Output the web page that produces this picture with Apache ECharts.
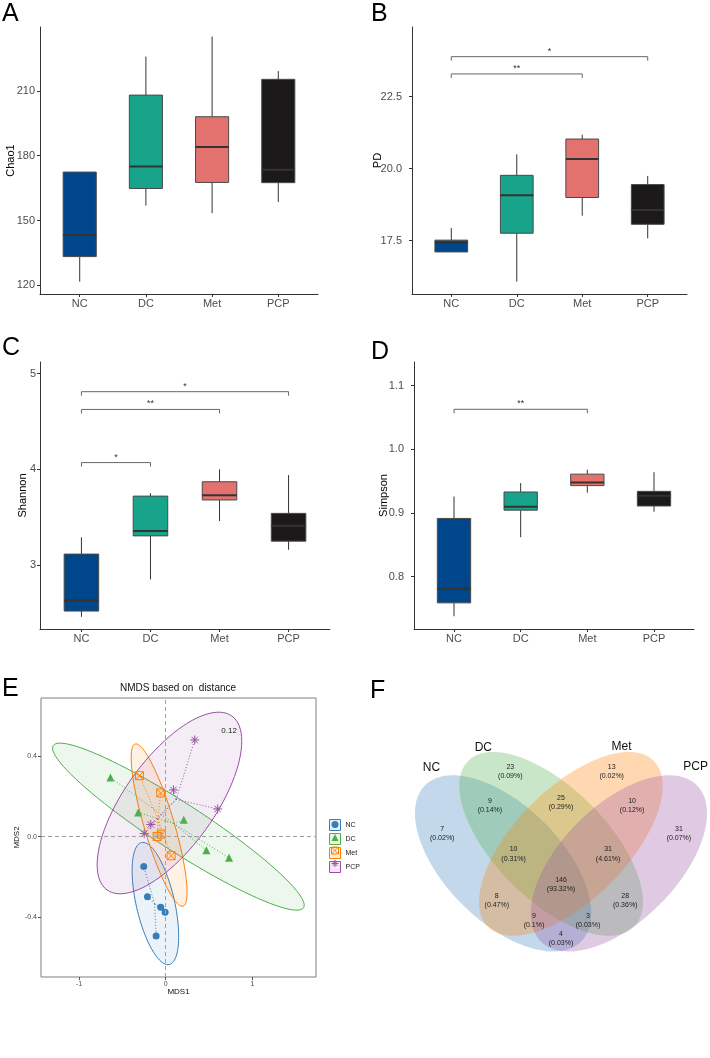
<!DOCTYPE html>
<html><head><meta charset="utf-8">
<script src="https://cdn.jsdelivr.net/npm/echarts@6/dist/echarts.min.js"></script>
<style>html,body{margin:0;padding:0;background:#fff}#c{width:710px;height:1058px}</style>
</head><body><div id="c"></div>
<script>
const FONT = '"Liberation Sans", Arial, Helvetica, sans-serif';

// ---------- data ----------
const categories = ['NC', 'DC', 'Met', 'PCP'];
// box stats per group: [lower whisker, Q1, median, Q3, upper whisker]
const chao1Stats = [[121.7,133.3,143.3,172.4,172.4],[156.9,164.8,175.0,208.0,225.8],[153.4,167.6,184.0,198.0,235.1],[158.6,167.5,173.5,215.3,219.1]];
const pdStats = [[17.11,17.11,17.43,17.52,17.94],[16.08,17.76,19.08,19.77,20.50],[18.37,19.00,20.34,21.03,21.18],[17.58,18.07,18.57,19.45,19.75]];
const shannonStats = [[2.46,2.52,2.63,3.115,3.29],[2.85,3.305,3.357,3.72,3.75],[3.46,3.68,3.73,3.87,4.00],[3.16,3.25,3.41,3.54,3.94]];
const simpsonStats = [[0.738,0.759,0.781,0.8915,0.926],[0.862,0.9045,0.9097,0.933,0.947],[0.932,0.943,0.948,0.961,0.968],[0.902,0.911,0.927,0.934,0.964]];
// significance brackets: [from group, to group, height, label]
const chao1Sig = [];
const pdSig = [[1,3,23.29,'**'],[1,4,23.89,'*']];
const shannonSig = [[1,2,4.07,'*'],[1,3,4.625,'**'],[1,4,4.81,'*']];
const simpsonSig = [[1,3,1.0628,'**']];
// tick values
const chao1Ticks = [120,150,180,210];
const pdTicks = [17.5,20,22.5];
const shannonTicks = [3,4,5];
const simpsonTicks = [0.8,0.9,1.0,1.1];
const nmdsXTicks = [-1,0,1];
const nmdsYTicks = [-0.4,0,0.4];
// NMDS scores (MDS1, MDS2)
const nmdsGroups = ['NC','DC','Met','PCP'];
const nmdsNC = [[-0.254,-0.148],[-0.211,-0.299],[-0.058,-0.352],[-0.007,-0.377],[-0.111,-0.495]];
const nmdsDC = [[-0.638,0.295],[-0.318,0.121],[0.208,0.085],[0.469,-0.068],[0.731,-0.105]];
const nmdsMet = [[-0.303,0.304],[-0.058,0.218],[-0.050,0.013],[-0.099,0.001],[0.062,-0.095]];
const nmdsPCP = [[0.335,0.482],[0.089,0.233],[0.600,0.138],[-0.173,0.061],[-0.249,0.015]];
// confidence ellipses: [centre x, centre y, axis1 x, axis1 y, axis2 x, axis2 y]
const ellipseNC = [-0.119,-0.333,-0.160,0.304,0.216,0.021];
const ellipseDC = [0.146,0.050,1.445,-0.404,-0.151,-0.100];
const ellipseMet = [-0.076,0.058,-0.276,0.404,0.167,0.021];
const ellipsePCP = [0.043,0.168,0.721,0.433,0.421,-0.131];
const stressLabel = [[0.731,0.53,'0.12']];
// Venn
const vennSets = ['NC','DC','Met','PCP'];
const vennEllipses = [[-0.193,0.022,0.368,0.193,135],[-0.033,0.087,0.391,0.186,135],[0.033,0.087,0.391,0.186,45],[0.193,0.022,0.368,0.193,45]];
const vennCounts = [23,13,9,25,10,7,31,10,31,146,8,28,9,3,4];
const vennPercents = ['0.09%','0.02%','0.14%','0.29%','0.12%','0.02%','0.07%','0.31%','4.61%','93.32%','0.47%','0.36%','0.1%','0.03%','0.03%'];
const vennLabelPos = [[-0.169,0.327],[0.169,0.327],[-0.237,0.215],[0,0.224],[0.237,0.215],[-0.396,0.121],[0.393,0.121],[-0.158,0.053],[0.157,0.053],[0,-0.049],[-0.214,-0.101],[0.214,-0.101],[-0.09,-0.169],[0.09,-0.169],[0,-0.229]];
const vennSetLabelPos = [[-0.432,0.342],[-0.259,0.409],[0.202,0.411],[0.449,0.344]];

// ---------- styles ----------
const boxColors = ['#00468B','#18A38B','#E3716E','#1B1919'];
const groupColors = ['#377EB8','#4DAF4A','#FF7F00','#984EA3'];
const SYM_MET = 'path://M0,0H10V10H0ZM0,0L10,10M10,0L0,10';
const SYM_PCP = 'path://M5,0V10M0,5H10M1.5,1.5L8.5,8.5M8.5,1.5L1.5,8.5';
function hexA(h, a){const n=parseInt(h.slice(1),16);return 'rgba('+(n>>16&255)+','+(n>>8&255)+','+(n&255)+','+a+')';}

const chart = echarts.init(document.getElementById('c'), null, {renderer:'canvas', width:710, height:1058});

function catXAxis(g){ return {
  type:'value', gridIndex:g, min:0.4, max:4.6,
  axisLine:{show:true, onZero:false, lineStyle:{color:'#333', width:1}},
  axisTick:{show:true, length:3, customValues:[1,2,3,4], lineStyle:{color:'#333', width:1}},
  axisLabel:{show:true, customValues:[1,2,3,4], formatter:(v)=>categories[Math.round(v)-1], color:'#4d4d4d', fontSize:11, fontFamily:FONT, margin:4},
  splitLine:{show:false}
};}
function valYAxis(g, min, max, ticks, dec, name, nameGap, margin){ return {
  type:'value', gridIndex:g, min, max, name, nameLocation:'middle', nameGap, nameMoveOverlap:false,
  nameTextStyle:{color:'#000', fontSize:11, fontFamily:FONT},
  axisLine:{show:true, onZero:false, lineStyle:{color:'#333', width:1}},
  axisTick:{show:true, length:3, customValues:ticks, lineStyle:{color:'#333', width:1}},
  axisLabel:{show:true, customValues:ticks, formatter:(v)=>Number(v).toFixed(dec), color:'#4d4d4d', fontSize:11, fontFamily:FONT, margin},
  splitLine:{show:false}
};}

function boxSeries(g, stats){
  return {
    type:'custom', name:'box'+g, xAxisIndex:g, yAxisIndex:g, z:2, silent:true,
    data: stats.map((s,i)=>[i+1].concat(s)),
    encode:{x:0, y:[1,2,3,4,5]},
    renderItem(params, api){
      const x = api.value(0);
      const hw = api.size([0.25, 0])[0];
      const pl = api.coord([x, api.value(1)]);
      const p1 = api.coord([x, api.value(2)]);
      const pm = api.coord([x, api.value(3)]);
      const p3 = api.coord([x, api.value(4)]);
      const pu = api.coord([x, api.value(5)]);
      const col = boxColors[params.dataIndex];
      return {type:'group', children:[
        {type:'line', shape:{x1:pl[0], y1:pl[1], x2:p1[0], y2:p1[1]}, style:{stroke:'#333', lineWidth:1}},
        {type:'line', shape:{x1:p3[0], y1:p3[1], x2:pu[0], y2:pu[1]}, style:{stroke:'#333', lineWidth:1}},
        {type:'rect', shape:{x:p1[0]-hw, y:p3[1], width:2*hw, height:p1[1]-p3[1]}, style:{fill:col, stroke:'#4a4a4a', lineWidth:1}},
        {type:'line', shape:{x1:pm[0]-hw, y1:pm[1], x2:pm[0]+hw, y2:pm[1]}, style:{stroke:'#333', lineWidth:2}}
      ]};
    }
  };
}
function sigSeries(g, sig){
  return {
    type:'custom', name:'sig'+g, xAxisIndex:g, yAxisIndex:g, z:3, silent:true,
    data: sig.map(s=>[s[0], s[1], s[2]]),
    encode:{x:[0,1], y:2},
    renderItem(params, api){
      const a = api.coord([api.value(0), api.value(2)]);
      const b = api.coord([api.value(1), api.value(2)]);
      return {type:'group', children:[
        {type:'polyline', shape:{points:[[a[0],a[1]+4],[a[0],a[1]],[b[0],b[1]],[b[0],b[1]+4]]}, style:{stroke:'#666', lineWidth:1, fill:null}},
        {type:'text', x:(a[0]+b[0])/2, y:a[1]-1, style:{text:sig[params.dataIndex][3], fill:'#333', fontSize:9, fontFamily:FONT, align:'center', verticalAlign:'bottom'}}
      ]};
    }
  };
}

const nmdsData = [nmdsNC, nmdsDC, nmdsMet, nmdsPCP];
const ellipses = [ellipseNC, ellipseDC, ellipseMet, ellipsePCP];
const nmdsSymbols = ['circle','triangle',SYM_MET,SYM_PCP];
const nmdsSizes = [7,8,8,9];

function ellipseSeries(i){
  const e = ellipses[i], col = groupColors[i];
  return {type:'custom', name:'ell'+i, xAxisIndex:4, yAxisIndex:4, z:1, silent:true, clip:true,
    data:[e], encode:{x:0, y:1},
    renderItem(params, api){
      const pts=[];
      for(let k=0;k<=96;k++){const t=k/96*2*Math.PI;
        pts.push(api.coord([e[0]+e[2]*Math.cos(t)+e[4]*Math.sin(t), e[1]+e[3]*Math.cos(t)+e[5]*Math.sin(t)]));}
      return {type:'polygon', shape:{points:pts}, style:{fill:hexA(col,0.1), stroke:col, lineWidth:1}};
    }};
}
function spiderSeries(i){
  const pts = nmdsData[i], col = groupColors[i];
  const cx = pts.reduce((s,p)=>s+p[0],0)/pts.length;
  const cy = pts.reduce((s,p)=>s+p[1],0)/pts.length;
  return {type:'custom', name:'spd'+i, xAxisIndex:4, yAxisIndex:4, z:2, silent:true,
    data:pts, encode:{x:0, y:1},
    renderItem(params, api){
      const p = api.coord([api.value(0), api.value(1)]);
      const c = api.coord([cx, cy]);
      return {type:'line', shape:{x1:c[0], y1:c[1], x2:p[0], y2:p[1]}, style:{stroke:col, lineWidth:1, lineDash:[1,2]}};
    }};
}
function scatterSeries(i){
  const col = groupColors[i];
  const isPath = i>=2;
  return {type:'scatter', name:nmdsGroups[i], xAxisIndex:4, yAxisIndex:4, z:4, silent:true,
    data:nmdsData[i], symbol:nmdsSymbols[i], symbolSize:nmdsSizes[i],
    itemStyle: isPath ? {color:'rgba(0,0,0,0)', borderColor:col, borderWidth:1, opacity:1} : {color:col, opacity:1},
    markLine: i===0 ? {silent:true, symbol:['none','none'], label:{show:false}, animation:false,
      lineStyle:{color:'#a0a0a0', type:[4,3], width:1}, emphasis:{disabled:true},
      data:[{xAxis:0},{yAxis:0}]} : undefined
  };
}

const series = [
  boxSeries(0, chao1Stats), sigSeries(0, chao1Sig),
  boxSeries(1, pdStats), sigSeries(1, pdSig),
  boxSeries(2, shannonStats), sigSeries(2, shannonSig),
  boxSeries(3, simpsonStats), sigSeries(3, simpsonSig)
];
for(let i=0;i<4;i++) series.push(ellipseSeries(i));
for(let i=0;i<4;i++) series.push(spiderSeries(i));
for(let i=0;i<4;i++) series.push(scatterSeries(i));
series.push({type:'custom', name:'stress', xAxisIndex:4, yAxisIndex:4, z:5, silent:true,
  data:stressLabel.map(s=>[s[0],s[1]]), encode:{x:0,y:1},
  renderItem(params, api){const p=api.coord([api.value(0),api.value(1)]);
    return {type:'text', x:p[0], y:p[1], style:{text:stressLabel[params.dataIndex][2], fill:'#222', fontSize:8, fontFamily:FONT, align:'center', verticalAlign:'middle'}};}});
// Venn
series.push({type:'custom', name:'vennEll', xAxisIndex:5, yAxisIndex:5, z:1, silent:true,
  data:vennEllipses.map(v=>[v[0],v[1],v[2],v[3],v[4]]), encode:{x:0,y:1},
  renderItem(params, api){
    const cx=api.value(0), cy=api.value(1), a=api.value(2), b=api.value(3), th=api.value(4)*Math.PI/180;
    const pts=[];
    for(let k=0;k<=120;k++){const t=k/120*2*Math.PI;
      const x=cx+a*Math.cos(t)*Math.cos(th)-b*Math.sin(t)*Math.sin(th);
      const y=cy+a*Math.cos(t)*Math.sin(th)+b*Math.sin(t)*Math.cos(th);
      pts.push(api.coord([x,y]));}
    return {type:'polygon', shape:{points:pts}, style:{fill:hexA(groupColors[params.dataIndex],0.3), stroke:null}};
  }});
series.push({type:'custom', name:'vennTxt', xAxisIndex:5, yAxisIndex:5, z:3, silent:true,
  data:vennLabelPos, encode:{x:0,y:1},
  renderItem(params, api){const p=api.coord([api.value(0),api.value(1)]);const i=params.dataIndex;
    return {type:'text', x:p[0], y:p[1], style:{text:vennCounts[i]+'\n('+vennPercents[i]+')', fill:'#222', fontSize:7, lineHeight:9.3, fontFamily:FONT, align:'center', verticalAlign:'middle'}};}});
series.push({type:'custom', name:'vennSet', xAxisIndex:5, yAxisIndex:5, z:3, silent:true,
  data:vennSetLabelPos, encode:{x:0,y:1},
  renderItem(params, api){const p=api.coord([api.value(0),api.value(1)]);
    return {type:'text', x:p[0], y:p[1], style:{text:vennSets[params.dataIndex], fill:'#111', fontSize:12, fontFamily:FONT, align:'center', verticalAlign:'middle'}};}});

const nmdsAxisX = {type:'value', gridIndex:4, min:-1.44, max:1.735,
  axisLine:{show:false, onZero:false}, axisTick:{show:true, length:3, customValues:nmdsXTicks, lineStyle:{color:'#555'}},
  axisLabel:{customValues:nmdsXTicks, formatter:v=>String(Math.round(v)), fontSize:7, color:'#4d4d4d', fontFamily:FONT, margin:4},
  splitLine:{show:false}, name:'MDS1', nameLocation:'middle', nameGap:11, nameMoveOverlap:false, nameTextStyle:{fontSize:8, color:'#111', fontFamily:FONT}};
const nmdsAxisY = {type:'value', gridIndex:4, min:-0.699, max:0.691,
  axisLine:{show:false, onZero:false}, axisTick:{show:true, length:3, customValues:nmdsYTicks, lineStyle:{color:'#555'}},
  axisLabel:{customValues:nmdsYTicks, formatter:v=>Number(v).toFixed(1), fontSize:7, color:'#4d4d4d', fontFamily:FONT, margin:4},
  splitLine:{show:false}, name:'MDS2', nameLocation:'middle', nameGap:20, nameMoveOverlap:false, nameTextStyle:{fontSize:8, color:'#111', fontFamily:FONT}};

function letter(t, x, y){return {type:'text', x, y, style:{text:t, fill:'#000', fontSize:25, fontFamily:FONT, align:'left', verticalAlign:'top'}};}

const option = {
  animation:false,
  textStyle:{fontFamily:FONT},
  grid:[
    {left:40, top:27, width:278, height:267},
    {left:412, top:27, width:275, height:267},
    {left:40, top:362, width:290, height:267},
    {left:414, top:362, width:280, height:267},
    {left:41, top:698, width:275, height:279, show:true, borderColor:'#7f7f7f', borderWidth:1, backgroundColor:'rgba(0,0,0,0)'},
    {left:405, top:720, width:300, height:300}
  ],
  xAxis:[catXAxis(0), catXAxis(1), catXAxis(2), catXAxis(3), nmdsAxisX,
    {type:'value', gridIndex:5, min:-0.52, max:0.48, show:false}],
  yAxis:[
    valYAxis(0, 116, 239.5, chao1Ticks, 0, 'Chao1', 24, 5),
    valYAxis(1, 15.65, 24.92, pdTicks, 1, 'PD', 29, 10),
    valYAxis(2, 2.333, 5.12, shannonTicks, 0, 'Shannon', 12, 4),
    valYAxis(3, 0.718, 1.137, simpsonTicks, 1, 'Simpson', 25, 10),
    nmdsAxisY,
    {type:'value', gridIndex:5, min:-0.5, max:0.5, show:false}
  ],
  legend:[
    {left:329, top:819, orient:'vertical', padding:0, itemWidth:11, itemHeight:11, itemGap:2, selectedMode:false,
     textStyle:{fontSize:7, color:'#222', lineHeight:11, fontFamily:FONT},
     data:nmdsGroups.map((g,i)=>({name:g, icon:'rect', itemStyle:{color:hexA(groupColors[i],0.12), borderColor:groupColors[i], borderWidth:1}}))},
    {left:331, top:819, orient:'vertical', padding:0, itemWidth:7, itemHeight:7, itemGap:2, selectedMode:false,
     textStyle:{fontSize:7, color:'rgba(0,0,0,0)', lineHeight:11, fontFamily:FONT},
     data:nmdsGroups.map((g,i)=>({name:g, icon:nmdsSymbols[i],
       itemStyle: i>=2 ? {color:'rgba(0,0,0,0)', borderColor:groupColors[i], borderWidth:1} : {color:groupColors[i], borderWidth:0}}))}
  ],
  graphic:[
    letter('A', 2, 2), letter('B', 371, 2), letter('C', 2, 336), letter('D', 371, 340),
    letter('E', 2, 677), letter('F', 370, 679),
    {type:'text', x:178, y:688, style:{text:'NMDS based on  distance', fill:'#111', fontSize:10, fontFamily:FONT, align:'center', verticalAlign:'middle'}}
  ],
  series
};
chart.setOption(option);
</script></body></html>
